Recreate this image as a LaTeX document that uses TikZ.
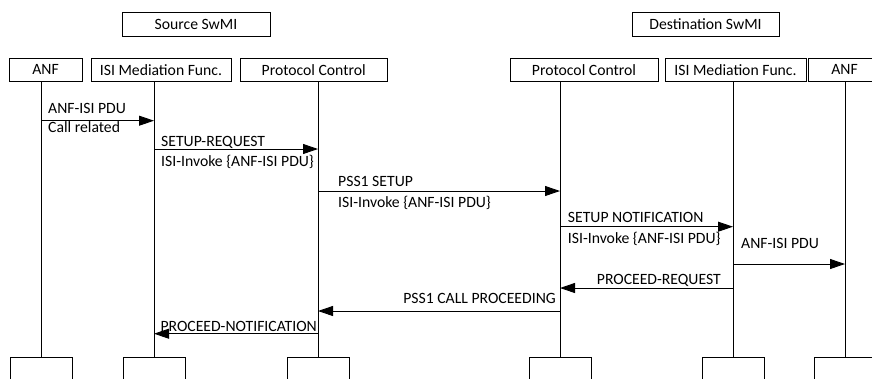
\documentclass[tikz,border=0pt]{standalone}
\usepackage{fontspec}
\setmainfont{Carlito}
\usetikzlibrary{arrows.meta}
\begin{document}
\begin{tikzpicture}[x=1pt,y=-1pt,
 every node/.style={font=\fontsize{15.7}{18}\selectfont},
 box/.style={draw, line width=0.9pt, inner sep=0, minimum height=22.7pt},
 bbox/.style={draw, line width=0.9pt, inner sep=0, minimum width=62pt, minimum height=34pt},
 life/.style={line width=0.9pt},
 msg/.style={line width=0.9pt, -{Triangle[length=15pt,width=10pt]}},
 lbl/.style={inner sep=0, anchor=base west},
 lblr/.style={inner sep=0, anchor=base east}]
\useasboundingbox (0,0) rectangle (872,378);
\clip (0,0) rectangle (872,378);
% header boxes
\node[box, minimum width=148pt, minimum height=23.3pt] (src) at (196,24.3) {Source SwMI};
\node[box, minimum width=147pt, minimum height=23.3pt] (dst) at (705.5,24.3) {Destination SwMI};
% top boxes
\node[box, minimum width=73pt]    (anfA) at (45.5,69.7)  {ANF};
\node[box, minimum width=140pt]   (isiA) at (161,69.7)   {ISI Mediation Func.};
\node[box, minimum width=147.5pt] (pcA)  at (313.7,69.7) {Protocol Control};
\node[box, minimum width=148pt]   (pcB)  at (584,69.7)   {Protocol Control};
\node[box, minimum width=141pt]   (isiB) at (735.5,69.7) {ISI Mediation Func.};
\node[box, minimum width=73pt]    (anfB) at (844.5,69.7) {ANF};
% bottom boxes
\node[bbox] (bA1) at (41,374) {};
\node[bbox] (bA2) at (154,374) {};
\node[bbox] (bA3) at (318,374) {};
\node[bbox] (bB3) at (560,374) {};
\node[bbox] (bB2) at (733,374) {};
\node[bbox] (bB1) at (845,374) {};
% lifeline tops
\coordinate (tA1) at (41,81);
\coordinate (tA2) at (154,81);
\coordinate (tA3) at (318,81);
\coordinate (tB3) at (560,81);
\coordinate (tB2) at (733,81);
\coordinate (tB1) at (845,81);
\draw[life] (tA1) -- (bA1.north);
\draw[life] (tA2) -- (bA2.north);
\draw[life] (tA3) -- (bA3.north);
\draw[life] (tB3) -- (bB3.north);
\draw[life] (tB2) -- (bB2.north);
\draw[life] (tB1) -- (bB1.north);
% message end points
\coordinate (m1s) at (41,120.7);  \coordinate (m1e) at (154,120.7);
\coordinate (m2s) at (154,149);   \coordinate (m2e) at (318,149);
\coordinate (m3s) at (318,191);   \coordinate (m3e) at (560,191);
\coordinate (m4s) at (560,226.7); \coordinate (m4e) at (733,226.7);
\coordinate (m5s) at (733,264);   \coordinate (m5e) at (845,264);
\coordinate (m6s) at (733,288);   \coordinate (m6e) at (560,288);
\coordinate (m7s) at (560,311);   \coordinate (m7e) at (318,311);
\coordinate (m8s) at (318,333.7); \coordinate (m8e) at (154,333.7);
\draw[msg] (m1s) -- (m1e);
\draw[msg] (m2s) -- (m2e);
\draw[msg] (m3s) -- (m3e);
\draw[msg] (m4s) -- (m4e);
\draw[msg] (m5s) -- (m5e);
\draw[msg] (m6s) -- (m6e);
\draw[msg] (m7s) -- (m7e);
\draw[msg] (m8s) -- (m8e);
% labels
\node[lbl] (l1a) at (48,113.3) {ANF-ISI PDU};
\node[lbl] (l1b) at (48,132.3) {Call related};
\node[lbl] (l2a) at (161,146.7) {SETUP-REQUEST};
\node[lbl] (l2b) at (161,166.7) {ISI-Invoke \{ANF-ISI PDU\}};
\node[lbl] (l3a) at (338,186.7) {PSS1 SETUP};
\node[lbl] (l3b) at (338,207.3) {ISI-Invoke \{ANF-ISI PDU\}};
\node[lbl] (l4a) at (567.7,222.3) {SETUP NOTIFICATION};
\node[lbl] (l4b) at (567.7,243.3) {ISI-Invoke \{ANF-ISI PDU\}};
\node[lbl] (l5a) at (741,248.3) {ANF-ISI PDU};
\node[lblr] (l6a) at (721,284.3) {PROCEED-REQUEST};
\node[lblr] (l7a) at (556,303.3) {PSS1 CALL PROCEEDING};
\node[lblr] (l8a) at (317,331.7) {PROCEED-NOTIFICATION};
\end{tikzpicture}
\end{document}
